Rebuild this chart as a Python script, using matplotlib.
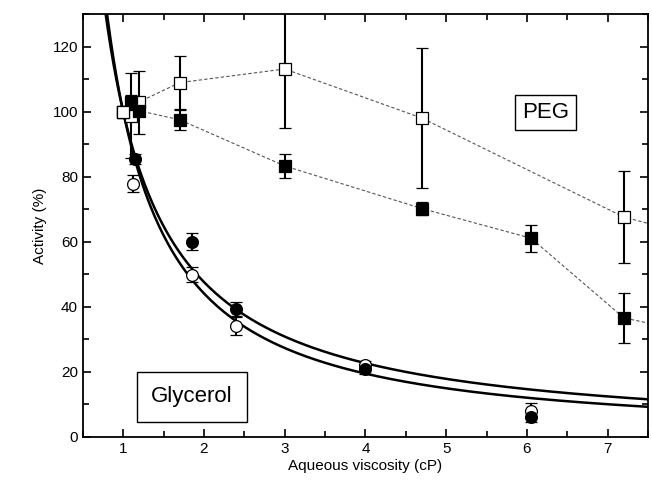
import numpy as np
import matplotlib
matplotlib.use("Agg")
import matplotlib.pyplot as plt
from matplotlib.ticker import MultipleLocator

plt.rcParams['font.family'] = ['Liberation Sans', 'DejaVu Sans']

# Glycerol data (filled / open circles)
gly_filled_x = [1.0, 1.15, 1.85, 2.4, 4.0, 6.05]
gly_filled_y = [100, 85.5, 60, 39.4, 21, 6.2]
gly_filled_err = [0, 1.5, 2.6, 2.2, 1.5, 1.5]
gly_open_x = [1.0, 1.12, 1.85, 2.4, 4.0, 6.05]
gly_open_y = [100, 77.8, 49.8, 34, 22, 8]
gly_open_err = [0, 2.6, 2.3, 2.8, 1.5, 2.3]

# PEG data (filled / open squares)
peg_filled_x = [1.0, 1.095, 1.19, 1.7, 3.0, 4.7, 6.05, 7.2]
peg_filled_y = [100, 102.9, 100.3, 97.5, 83.3, 70.2, 61.1, 36.6]
peg_filled_err = [0, 2.2, 1.5, 3.0, 3.6, 2.1, 4.2, 7.7]
peg_open_x = [1.0, 1.1, 1.19, 1.7, 3.0, 4.7, 7.2]
peg_open_y = [100, 98.8, 102.9, 108.9, 113.1, 98, 67.6]
peg_open_err = [0, 13, 9.7, 8.1, 18, 21.6, 14]

# trailing segments of the dashed guide lines (leave the axes at the right)
peg_filled_tail_x = [7.2, 7.6]
peg_filled_tail_y = [36.6, 34.5]
peg_open_tail_x = [7.2, 7.6]
peg_open_tail_y = [67.6, 65.0]

# fitted curves: activity = 100 * viscosity^-n
fit_exponents = [1.07, 1.18]

fig = plt.figure(figsize=(6.52, 4.93), dpi=100)
ax = fig.add_axes([0.127, 0.1136, 0.867, 0.858])

xs = np.linspace(0.6, 7.6, 400)
for n in fit_exponents:
    ax.plot(xs, 100 * xs ** (-n), color='black', lw=1.8, zorder=2)

dash = dict(color='#555555', lw=0.8, linestyle=(0, (3, 2)), zorder=1)
ax.plot(peg_filled_x + peg_filled_tail_x[1:], peg_filled_y + peg_filled_tail_y[1:], **dash)
ax.plot(peg_open_x + peg_open_tail_x[1:], peg_open_y + peg_open_tail_y[1:], **dash)

eb = dict(ecolor='black', elinewidth=1.5, capsize=4, capthick=1.5, linestyle='none', zorder=3)
ax.errorbar(peg_open_x, peg_open_y, yerr=peg_open_err, fmt='s', mfc='white', mec='black',
            ms=8, mew=0.9, **eb)
ax.errorbar(peg_filled_x, peg_filled_y, yerr=peg_filled_err, fmt='s', mfc='black', mec='black',
            ms=8, mew=0.9, **eb)
ax.errorbar(gly_open_x, gly_open_y, yerr=gly_open_err, fmt='o', mfc='white', mec='black',
            ms=8.5, mew=0.9, **eb)
ax.errorbar(gly_filled_x, gly_filled_y, yerr=gly_filled_err, fmt='o', mfc='black', mec='black',
            ms=8.5, mew=0.9, **eb)
# open square on top at (1,100)
ax.plot([peg_open_x[0]], [peg_open_y[0]], 's', mfc='white', mec='black', ms=8, mew=0.9, zorder=4)

ax.set_xlim(0.5, 7.5)
ax.set_ylim(0, 130)
ax.xaxis.set_major_locator(MultipleLocator(1))
ax.xaxis.set_minor_locator(MultipleLocator(0.5))
ax.yaxis.set_major_locator(MultipleLocator(20))
ax.yaxis.set_minor_locator(MultipleLocator(10))
ax.tick_params(which='both', direction='in', top=True, right=True, labelsize=11, width=1.2)
ax.tick_params(which='major', length=6)
ax.tick_params(which='minor', length=4)
for s in ax.spines.values():
    s.set_linewidth(1.3)

ax.set_xlabel('Aqueous viscosity (cP)', fontsize=11, labelpad=2)
ax.set_ylabel('Activity (%)', fontsize=11, labelpad=4)

ax.text(6.23, 99.7, 'PEG', fontsize=16, ha='center', va='center',
        bbox=dict(boxstyle='square,pad=0.3', fc='white', ec='black', lw=1.0))
ax.text(1.85, 12.3, 'Glycerol', fontsize=16, ha='center', va='center',
        bbox=dict(boxstyle='square,pad=0.65', fc='white', ec='black', lw=1.0))

fig.savefig('out.png', dpi=100)
